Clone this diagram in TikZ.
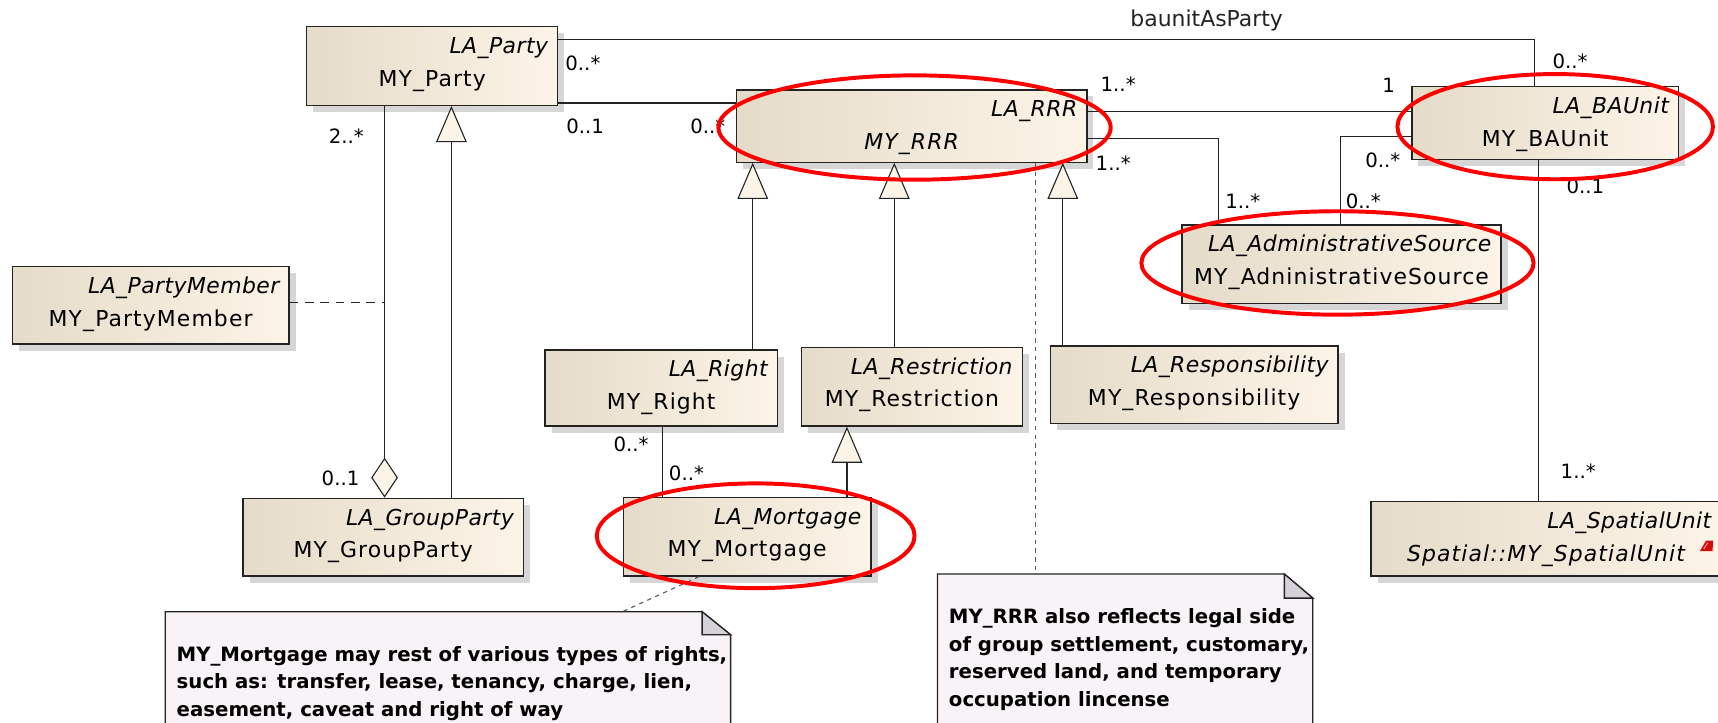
\documentclass[tikz,border=0pt]{standalone}
\usepackage{fontspec}
\usetikzlibrary{arrows.meta,calc,positioning,shadows}

\newfontfamily\clsfont[LetterSpace=5]{DejaVu Sans}
\newfontfamily\clsitfont[LetterSpace=2]{DejaVu Sans}
\newfontfamily\plainfont{DejaVu Sans}

\newcommand{\lafont}{\fontsize{10}{12}\clsitfont\itshape}
\newcommand{\myfont}{\fontsize{10}{12}\clsfont}
\newcommand{\myitfont}{\fontsize{10}{12}\clsfont\itshape}
\newcommand{\multfont}{\fontsize{9}{11}\plainfont}
\newcommand{\rolefont}{\fontsize{10}{12}\plainfont}
\newcommand{\notefont}{\fontsize{9}{12.5}\plainfont\bfseries}

\definecolor{clsleft}{RGB}{229,219,201}
\definecolor{clsright}{RGB}{252,244,231}
\definecolor{linecol}{RGB}{35,35,35}
\definecolor{notefill}{RGB}{247,243,247}
\definecolor{foldfill}{RGB}{213,209,217}
\definecolor{linkgrey}{RGB}{90,90,90}
\definecolor{iconred}{RGB}{215,10,10}

\tikzset{
  cls/.style={draw=linecol, line width=0.6pt, left color=clsleft, right color=clsright,
    inner sep=0pt, drop shadow={shadow xshift=3pt, shadow yshift=-3pt, fill=black!40, opacity=0.4}},
  la/.style={anchor=base east, inner sep=0pt, xshift=-4.5pt, yshift=-12.5pt, font=\lafont},
  my/.style={anchor=base, inner sep=0pt, yshift=-27.5pt, font=\myfont},
  assoc/.style={color=linecol, line width=0.5pt},
  gen/.style={assoc, -{Triangle[length=16.5pt, width=14pt, fill=clsright]}},
  agg/.style={assoc, {Diamond[length=18.25pt, width=12.2pt, fill=clsright]}-},
  member/.style={assoc, dash pattern=on 4pt off 3pt},
  notelink/.style={color=linkgrey, line width=0.5pt, dash pattern=on 2pt off 2pt},
  mult/.style={anchor=base, inner sep=0pt, font=\multfont},
  note/.style={fill=notefill, inner sep=0pt, anchor=north west},
  noteline/.style={draw=linecol, line width=0.6pt},
  fold/.style={fill=foldfill, draw=linecol, line width=0.6pt},
  notetext/.style={align=left, inner sep=0pt, font=\notefont},
  hilite/.style={draw=red, line width=1.8pt}
}

\begin{document}
\begin{tikzpicture}[x=0.5pt, y=-0.5pt]

  \useasboundingbox (0,0) rectangle (1568,659);

  % classes
  \node [cls, minimum width=114.5pt, minimum height=35.9pt,
    label={[la]north east:LA\_Party}, label={[my]north:MY\_Party}] (party) at (394.5,60.2) {};
  \node [cls, minimum width=126.25pt, minimum height=35.3pt,
    label={[la]north east:LA\_PartyMember}, label={[my]north:MY\_PartyMember}] (partymember) at (137.5,278.7) {};
  \node [cls, minimum width=128pt, minimum height=35.5pt,
    label={[la]north east:LA\_GroupParty}, label={[my]north:MY\_GroupParty}] (groupparty) at (349.8,490.3) {};
  \node [cls, minimum width=160pt, minimum height=33pt,
    label={[la]north east:LA\_RRR}, label={[my, font=\myitfont]north:MY\_RRR}] (rrr) at (832,115) {};
  \node [cls, minimum width=121.7pt, minimum height=33.15pt,
    label={[la]north east:LA\_BAUnit}, label={[my]north:MY\_BAUnit}] (baunit) at (1410.3,112.25) {};
  \node [cls, minimum width=145.6pt, minimum height=35.7pt,
    label={[la]north east:LA\_AdministrativeSource}, label={[my]north:MY\_AdninistrativeSource}] (adminsrc) at (1224.4,241.1) {};
  \node [cls, minimum width=106pt, minimum height=34.7pt,
    label={[la]north east:LA\_Right}, label={[my]north:MY\_Right}] (right) at (603.5,354.1) {};
  \node [cls, minimum width=100.7pt, minimum height=35.9pt,
    label={[la]north east:LA\_Restriction}, label={[my]north:MY\_Restriction}] (restriction) at (832.3,352.9) {};
  \node [cls, minimum width=131.4pt, minimum height=35.3pt,
    label={[la]north east:LA\_Responsibility}, label={[my]north:MY\_Responsibility}] (responsibility) at (1089.9,351.1) {};
  \node [cls, minimum width=113.1pt, minimum height=35.9pt,
    label={[la]north east:LA\_Mortgage}, label={[my]north:MY\_Mortgage}] (mortgage) at (681.9,489.8) {};
  \node [cls, minimum width=159.65pt, minimum height=33.9pt,
    label={[la]north east:LA\_SpatialUnit}, label={[my, font=\myitfont]north:{Spatial::MY\_SpatialUnit}}] (spatial) at (1411,491.8) {};
  \fill [iconred] (1551.5,503) -- (1557,493.5) -- (1563.5,493.5) -- (1563,503) -- cycle;
  \draw [red!30, line width=0.4pt] (1555,501) -- (1558.5,495.5);

  % notes
  \node [note, minimum width=257.55pt, minimum height=70.85pt] (mortnote) at (150.9,558.3) {};
  \fill [white] ([xshift=-13pt]mortnote.north east) -- (mortnote.north east) -- ([yshift=-10.5pt]mortnote.north east) -- cycle;
  \draw [noteline] (mortnote.south west) -- (mortnote.north west) -- ([xshift=-13pt]mortnote.north east)
    -- ([yshift=-10.5pt]mortnote.north east) -- (mortnote.south east);
  \draw [fold] ([xshift=-13pt]mortnote.north east) -- ([xshift=-13pt,yshift=-10.5pt]mortnote.north east)
    -- ([yshift=-10.5pt]mortnote.north east) -- cycle;
  \node [notetext, below right=15.7pt and 5pt of mortnote.north west] (mortnotetext)
    {MY\_Mortgage may rest of various types of rights,\\ such as: transfer, lease, tenancy, charge, lien,\\ easement, caveat and right of way};

  \node [note, minimum width=170.85pt, minimum height=88pt] (rrrnote) at (855.7,523.9) {};
  \fill [white] ([xshift=-13pt]rrrnote.north east) -- (rrrnote.north east) -- ([yshift=-11pt]rrrnote.north east) -- cycle;
  \draw [noteline] (rrrnote.south west) -- (rrrnote.north west) -- ([xshift=-13pt]rrrnote.north east)
    -- ([yshift=-11pt]rrrnote.north east) -- (rrrnote.south east);
  \draw [fold] ([xshift=-13pt]rrrnote.north east) -- ([xshift=-13pt,yshift=-11pt]rrrnote.north east)
    -- ([yshift=-11pt]rrrnote.north east) -- cycle;
  \node [notetext, below right=15.7pt and 5pt of rrrnote.north west] (rrrnotetext)
    {MY\_RRR also reflects legal side\\ of group settlement, customary,\\ reserved land, and temporary\\ occupation lincense};

  % associations
  \draw [assoc] (party.east |- 0,35.9) -| (baunit.north -| 1400.7,0)
    node [pos=0.332, above=3.7pt, inner sep=0pt, font=\rolefont] (baunitasparty) {baunitAsParty};
  \path [assoc] (party.east |- 0,94) edge (rrr.west |- 0,94);
  \path [assoc] (rrr.east |- 0,101.5) edge (baunit.west |- 0,101.5);
  \draw [assoc] (rrr.east |- 0,126.6) -| (adminsrc.north -| 1111.9,0);
  \draw [assoc] (baunit.west |- 0,124.7) -| (adminsrc.north -| 1223.3,0);
  \path [assoc] (baunit.south -| 1404.3,0) edge (spatial.north -| 1404.3,0);
  \path [assoc] (right.south -| 604.7,0) edge (mortgage.north -| 604.7,0);
  \path [agg] (groupparty.north -| 351,0) edge (party.south -| 351,0);
  \coordinate (aggpoint) at (351,276.2);
  \path [member] (partymember.east |- aggpoint) edge (aggpoint);

  % generalizations
  \path [gen] (groupparty.north -| 412,0) edge (party.south -| 412,0);
  \path [gen] (right.north -| 687,0) edge (rrr.south -| 687,0);
  \path [gen] (restriction.north -| 816.2,0) edge (rrr.south -| 816.2,0);
  \path [gen] (responsibility.north -| 970,0) edge (rrr.south -| 970,0);
  \path [gen] (mortgage.north -| 773,0) edge (restriction.south -| 773,0);

  % note links
  \path [notelink] (rrr.south -| 945.4,0) edge (rrrnote.north -| 945.4,0);
  \path [notelink] (mortgage.south -| 638,0) edge (mortnote.north -| 568,0);

  % multiplicities
  \node [mult] (mpartytop) at (532,64.3) {0..*};
  \node [mult] (mbaunittop) at (1433,62.8) {0..*};
  \node [mult] (mpartyrrr) at (534,122.1) {0..1};
  \node [mult] (mrrrparty) at (646,122.1) {0..*};
  \node [mult] (mrrrbaunit) at (1020.5,83.5) {1..*};
  \node [mult] (mbaunitrrr) at (1267.5,84) {1};
  \node [mult] (mrrradmin) at (1016,155.5) {1..*};
  \node [mult] (madminrrr) at (1134.3,190.5) {1..*};
  \node [mult] (mbaunitadmin) at (1262,152.5) {0..*};
  \node [mult] (madminbaunit) at (1244.3,190.5) {0..*};
  \node [mult] (mbaunitspatial) at (1447,176.5) {0..1};
  \node [mult] (mspatialbaunit) at (1440.4,437) {1..*};
  \node [mult] (mpartygroup) at (316,131.2) {2..*};
  \node [mult] (mgroupparty) at (310.8,443.1) {0..1};
  \node [mult] (mrightmort) at (576,412.5) {0..*};
  \node [mult] (mmortright) at (626.5,438.5) {0..*};

  % highlights
  \draw [hilite] ([shift={(2.7,1.4)}]rrr.center) ellipse [x radius=89.5pt, y radius=23.8pt];
  \draw [hilite] ([shift={(9.1,3.35)}]baunit.center) ellipse [x radius=72pt, y radius=24pt];
  \draw [hilite] ([shift={(-3.7,-1.1)}]adminsrc.center) ellipse [x radius=89.5pt, y radius=23.6pt];
  \draw [hilite] ([shift={(7.8,-0.8)}]mortgage.center) ellipse [x radius=72.5pt, y radius=23.9pt];

\end{tikzpicture}
\end{document}
